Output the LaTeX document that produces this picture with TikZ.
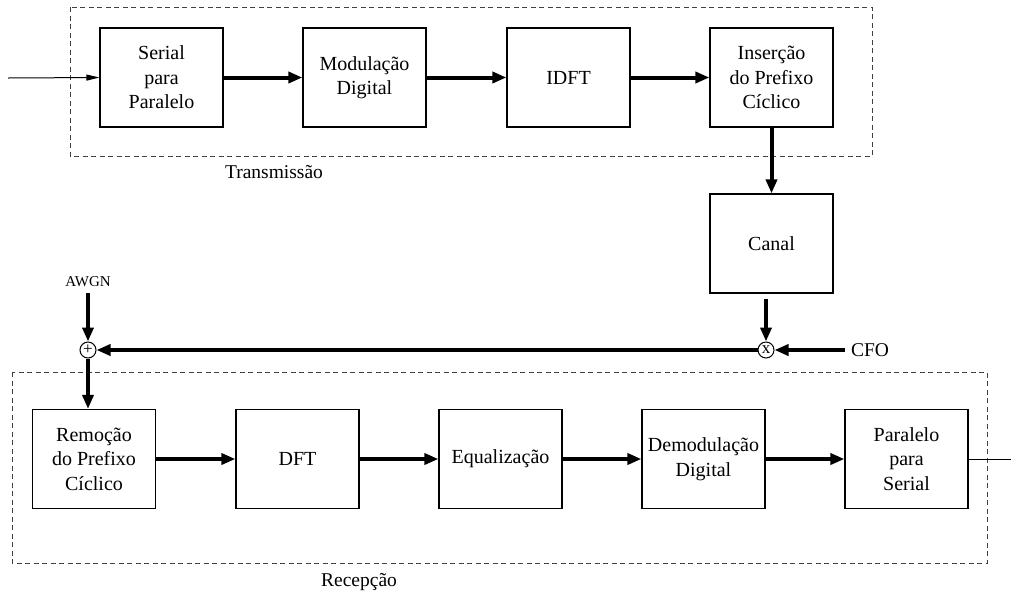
\documentclass[tikz,border=0pt]{standalone}
\usepackage{fontspec}
\setmainfont{Liberation Serif}
\newfontfamily\tnr{Liberation Serif}
\usetikzlibrary{arrows.meta}
\begin{document}
\begin{tikzpicture}[x=1pt,y=-1pt,
  blk/.style={draw,line width=1.2pt,minimum width=123pt,minimum height=99pt,inner sep=0pt,align=center,font=\tnr\fontsize{20}{24.5}\selectfont},
  thick arrow/.style={line width=4pt,-{Triangle[length=14pt,width=11pt]}},
  thin arrow/.style={line width=1pt,-{Triangle[length=13pt,width=6pt]}},
  region/.style={draw=black!75,line width=0.9pt,dash pattern=on 5pt off 3.5pt},
  lbl/.style={inner sep=0pt,font=\tnr\fontsize{19.5}{24.5}\selectfont},
  junction/.style={draw,circle,line width=1pt,minimum size=16pt,inner sep=0pt,font=\tnr\fontsize{17}{17}\selectfont}]
\useasboundingbox (0,0) rectangle (1011,595);
% regions
\draw[region] (70,7) rectangle (872,156);
\draw[region] (12,372) rectangle (987,563);
\node[lbl] (tx) at (274,172) {Transmissão};
\node[lbl] (rx) at (359,582) {Recepção};
% transmitter
\node[blk] (sp) at (161.5,77.5) {Serial\\para\\Paralelo};
\node[blk] (mod) at (364.5,77.5) {Modulação\\Digital};
\node[blk] (idft) at (568.5,77.5) {IDFT};
\node[blk] (cp) at (771.5,77.5) {Inserção\\do Prefixo\\Cíclico};
\node[blk] (can) at (771.5,243.5) {Canal};
% receiver
\node[blk] (rcp) at (94,459) {Remoção\\do Prefixo\\Cíclico};
\node[blk] (dft) at (297.5,459) {DFT};
\node[blk] (eq) at (500.5,459) {Equalização};
\node[blk] (dem) at (703.5,459) {Demodulação\\Digital};
\node[blk] (ps) at (906.5,459) {Paralelo\\para\\Serial};
% junctions
\node[junction] (mix) at (766,350) {\raisebox{0.5pt}{x}};
\node[junction] (add) at (88,350) {\raisebox{1pt}{+}};
\node[lbl,font=\tnr\fontsize{15}{15}\selectfont] (awgn) at (88,282) {AWGN};
\node[lbl] (cfo) at (870,350) {CFO};
\coordinate (in) at (8,78);
\coordinate (out) at (1011,459);
\coordinate (canout) at (766,299);
\coordinate (awgnout) at (88,293);
\coordinate (cfoout) at (845,350);
% connectors
\draw[thin arrow] (in) -- (sp.west);
\draw[thick arrow] (sp) -- (mod);
\draw[thick arrow] (mod) -- (idft);
\draw[thick arrow] (idft) -- (cp);
\draw[thick arrow] (cp) -- (can);
\draw[thick arrow] (canout) -- (mix);
\draw[thick arrow] (cfoout) -- (mix);
\draw[thick arrow] (mix) -- (add);
\draw[thick arrow] (awgnout) -- (add);
\draw[thick arrow] (add) -- (add |- rcp.north);
\draw[thick arrow] (rcp) -- (dft);
\draw[thick arrow] (dft) -- (eq);
\draw[thick arrow] (eq) -- (dem);
\draw[thick arrow] (dem) -- (ps);
\draw[line width=1pt] (ps.east) -- (out);
\end{tikzpicture}
\end{document}
